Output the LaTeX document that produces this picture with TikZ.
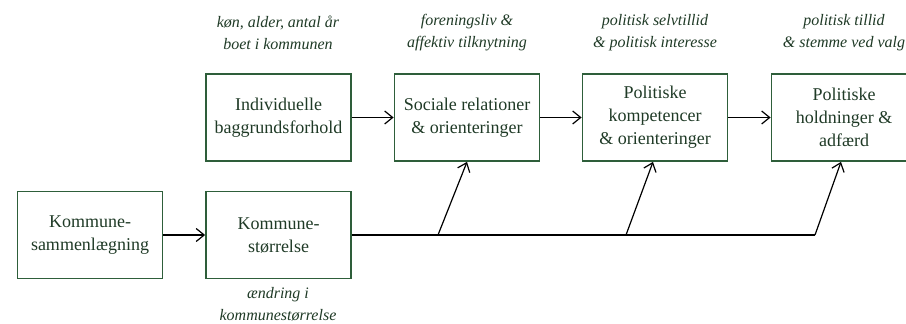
\documentclass[tikz,border=0pt]{standalone}
\usepackage{fontspec}
\setmainfont{Liberation Serif}
\usetikzlibrary{arrows.meta}
\definecolor{boxgreen}{HTML}{2E5E3A}
\definecolor{txtgreen}{HTML}{1F3A26}
\begin{document}
\begin{tikzpicture}[x=1pt,y=-1pt,
  box/.style={draw=boxgreen, line width=1.8pt, minimum width=145pt, minimum height=87pt,
    align=center, inner sep=0pt, text=txtgreen, font=\fontsize{18}{23}\selectfont},
  lab/.style={align=center, text=txtgreen, font=\fontsize{16}{22}\selectfont\itshape},
  conn/.style={draw=black, line width=1.2pt, -{Straight Barb[length=8pt,width=13pt,line width=1.2pt]}},
  plain/.style={draw=black, line width=1.2pt}]
\useasboundingbox (0,0) rectangle (906,324);
\clip (0,0) rectangle (906,324);
\node[box] (ind) at (278.5,117.5) {Individuelle\\baggrundsforhold};
\node[box] (soc) at (467,117.5) {Sociale relationer\\\& orienteringer};
\node[box] (pk) at (655,117.5) {Politiske\\kompetencer\\\& orienteringer};
\node[box] (ph) at (844,117.5) {Politiske\\holdninger \&\\adfærd};
\node[box] (ks) at (90,235) {Kommune-\\sammenlægning};
\node[box] (kst) at (278.5,235) {Kommune-\\størrelse};
\node[lab] (l1) at (278,33) {køn, alder, antal år\\boet i kommunen};
\node[lab] (l2) at (467,33) {foreningsliv \&\\affektiv tilknytning};
\node[lab] (l3) at (655,33) {politisk selvtillid\\\& politisk interesse};
\node[lab] (l4) at (844,33) {politisk tillid\\\& stemme ved valg};
\node[lab] (l5) at (278,304) {ændring i\\kommunestørrelse};
\coordinate (b1) at (438,235);
\coordinate (b2) at (626,235);
\coordinate (b3) at (815,235);
\draw[conn] (ind) -- (soc);
\draw[conn] (soc) -- (pk);
\draw[conn] (pk) -- (ph);
\draw[conn] (ks) -- (kst);
\draw[plain] (kst.east) -- (b3);
\draw[conn] (b1) -- (soc.south);
\draw[conn] (b2) -- ([xshift=-2pt]pk.south);
\draw[conn] (b3) -- ([xshift=-3pt]ph.south);
\end{tikzpicture}
\end{document}
